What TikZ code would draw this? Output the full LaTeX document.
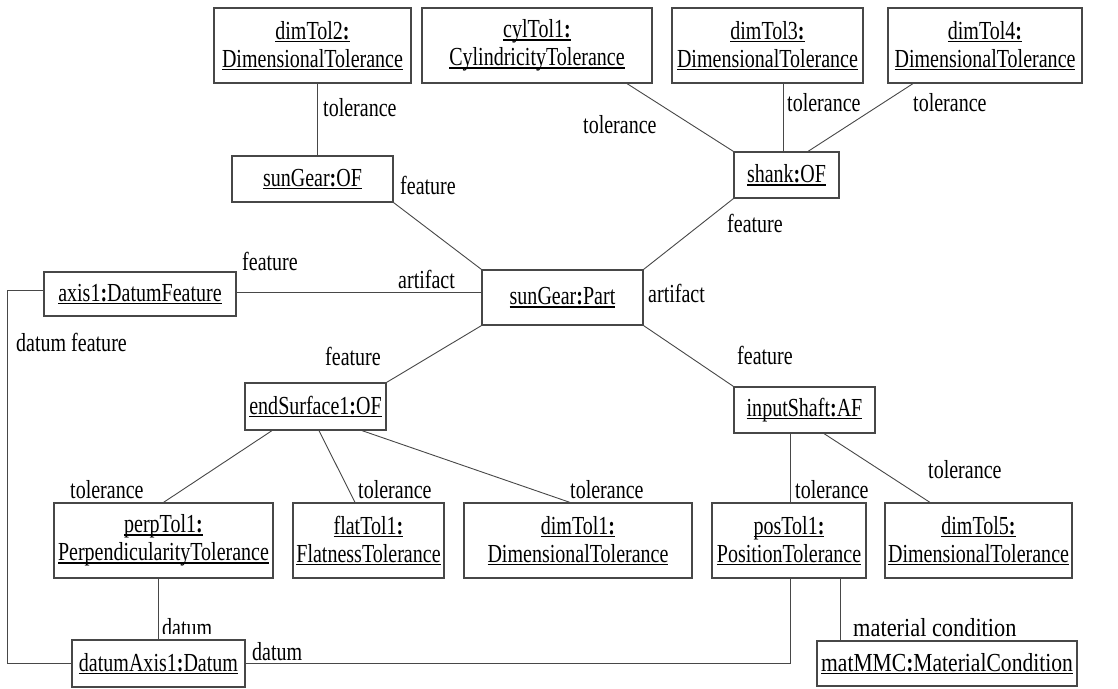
\documentclass[tikz,border=0pt]{standalone}
\usepackage{fontspec}
\setmainfont{Liberation Serif}
\newfontfamily\condserif{Liberation Serif}[FakeStretch=0.77]
\newfontfamily\midserif{Liberation Serif}[FakeStretch=0.83]
\newfontfamily\wideserif{Liberation Serif}[FakeStretch=0.86]
\newcommand\ulx[1]{\begingroup\setbox0\hbox{#1}\rlap{\rule[-3pt]{\wd0}{1.5pt}}\box0\endgroup}
\newcommand\obj[2]{\ulx{#1\textbf{:}}\\\ulx{#2}}
\newcommand\objone[2]{\ulx{#1\textbf{:}#2}}
\tikzset{
  objbox/.style={draw=black!72, line width=1.2pt, fill=white, inner sep=0pt, align=center,
    font=\condserif\fontsize{26}{28}\selectfont},
  lbl/.style={anchor=west, inner sep=0pt, font=\condserif\fontsize{26}{28}\selectfont},
  conn/.style={draw=black!72, line width=0.9pt}
}
\begin{document}
\begin{tikzpicture}[x=1pt,y=-1pt]
\useasboundingbox (0,0) rectangle (1118,688);
% labels
\node[lbl] (l1) at (323,108) {tolerance};
\node[lbl] (l2) at (400,185) {feature};
\node[lbl] (l3) at (583,125) {tolerance};
\node[lbl] (l4) at (787,103) {tolerance};
\node[lbl] (l5) at (913,103) {tolerance};
\node[lbl] (l6) at (727,223) {feature};
\node[lbl] (l7) at (242,261) {feature};
\node[lbl] (l8) at (398,279) {artifact};
\node[lbl] (l9) at (648,293) {artifact};
\node[lbl] (l10) at (16,342) {datum feature};
\node[lbl] (l11) at (325,356) {feature};
\node[lbl] (l12) at (737,355) {feature};
\node[lbl] (l13) at (70,490) {tolerance};
\node[lbl] (l14) at (358,490) {tolerance};
\node[lbl] (l15) at (570,490) {tolerance};
\node[lbl] (l16) at (795,490) {tolerance};
\node[lbl] (l17) at (928,470) {tolerance};
\begin{scope}
\clip (150,600) rectangle (240,633);
\node[lbl] (l18) at (162,628) {datum};
\end{scope}
\node[lbl] (l19) at (252,652) {datum};
\node[lbl, font=\wideserif\fontsize{26}{28}\selectfont] (l20) at (853,628) {material condition};
% boxes
\node[objbox, minimum width=197pt, minimum height=75pt] (dimTol2) at (312.5,45.5) {\obj{dimTol2}{DimensionalTolerance}};
\node[objbox, minimum width=230pt, minimum height=75pt] (cylTol1) at (537,45.5) {\obj{cylTol1}{CylindricityTolerance}};
\node[objbox, minimum width=191pt, minimum height=75pt] (dimTol3) at (767.5,45.5) {\obj{dimTol3}{DimensionalTolerance}};
\node[objbox, minimum width=194pt, minimum height=75pt] (dimTol4) at (985,45.5) {\obj{dimTol4}{DimensionalTolerance}};
\node[objbox, minimum width=161pt, minimum height=46pt] (sunGearOF) at (312.5,179) {\objone{sunGear}{OF}};
\node[objbox, minimum width=105pt, minimum height=46pt] (shank) at (786.5,175) {\objone{shank}{OF}};
\node[objbox, minimum width=192pt, minimum height=44pt] (axis1) at (140,294) {\objone{axis1}{DatumFeature}};
\node[objbox, minimum width=161pt, minimum height=55pt] (part) at (562.5,297.5) {\objone{sunGear}{Part}};
\node[objbox, minimum width=141pt, minimum height=47pt] (endSurface1) at (315.5,406.5) {\objone{endSurface1}{OF}};
\node[objbox, minimum width=141pt, minimum height=46pt] (inputShaft) at (804.5,410) {\objone{inputShaft}{AF}};
\node[objbox, minimum width=219pt, minimum height=75pt] (perpTol1) at (163.5,540.5) {\obj{perpTol1}{PerpendicularityTolerance}};
\node[objbox, minimum width=151pt, minimum height=75pt] (flatTol1) at (368.5,540.5) {\obj{flatTol1}{FlatnessTolerance}};
\node[objbox, minimum width=228pt, minimum height=75pt] (dimTol1) at (578,540.5) {\obj{dimTol1}{DimensionalTolerance}};
\node[objbox, minimum width=154pt, minimum height=75pt] (posTol1) at (789,540.5) {\obj{posTol1}{PositionTolerance}};
\node[objbox, minimum width=187pt, minimum height=75pt] (dimTol5) at (978.5,540.5) {\obj{dimTol5}{DimensionalTolerance}};
\node[objbox, minimum width=173pt, minimum height=47pt] (datumAxis1) at (158.5,663.5) {\objone{datumAxis1}{Datum}};
\node[objbox, minimum width=260pt, minimum height=45pt, font=\midserif\fontsize{26}{28}\selectfont] (matMMC) at (947,663.5) {\objone{matMMC}{MaterialCondition}};
% connectors
\draw[conn] ([xshift=4.5pt]dimTol2.south) -- ([xshift=4.5pt]sunGearOF.north);
\draw[conn] (sunGearOF.south east) -- (part.north west);
\draw[conn] ([xshift=90pt]cylTol1.south) -- (shank.north west);
\draw[conn] ([xshift=15.5pt]dimTol3.south) -- ([xshift=-3.5pt]shank.north);
\draw[conn] ([xshift=-72pt]dimTol4.south) -- ([xshift=21.5pt]shank.north);
\draw[conn] (shank.south west) -- (part.north east);
\draw[conn] ([yshift=2pt]axis1.east) -- ([yshift=2pt]axis1.east -| part.west);
\draw[conn] (part.south west) -- (endSurface1.north east);
\draw[conn] (part.south east) -- (inputShaft.north west);
\draw[conn] ([xshift=-43.5pt]endSurface1.south) -- (perpTol1.north);
\draw[conn] ([xshift=3.5pt]endSurface1.south) -- ([xshift=-13.5pt]flatTol1.north);
\draw[conn] ([xshift=46.5pt]endSurface1.south) -- ([xshift=-8pt]dimTol1.north);
\draw[conn] ([xshift=-14.5pt]inputShaft.south) -- ([xshift=1pt]posTol1.north);
\draw[conn] ([xshift=19.5pt]inputShaft.south) -- ([xshift=-48.5pt]dimTol5.north);
\draw[conn] ([xshift=-5.5pt]perpTol1.south) -- ([xshift=-0.5pt]datumAxis1.north);
\draw[conn] ([yshift=4pt]axis1.west) -- ++(-36,0) |- (datumAxis1.west);
\draw[conn] (datumAxis1.east) -| ([xshift=1pt]posTol1.south);
\draw[conn] ([xshift=51pt]posTol1.south) -- ([xshift=-107pt]matMMC.north);
\end{tikzpicture}
\end{document}
